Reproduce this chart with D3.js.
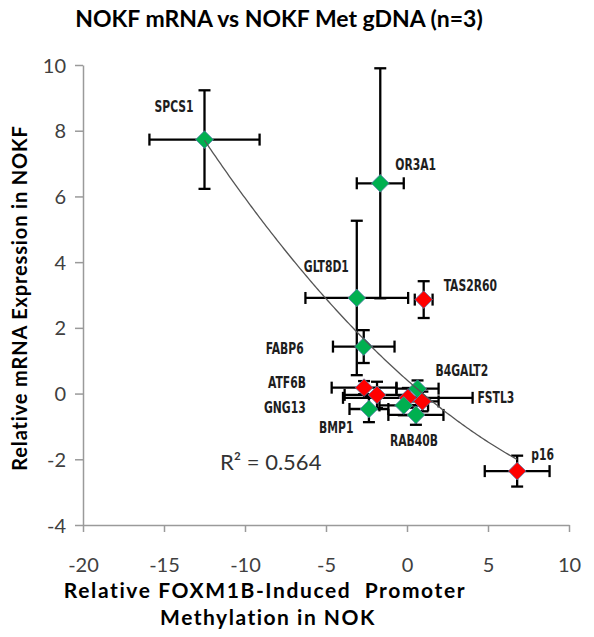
<!DOCTYPE html>
<html>
<head>
<meta charset="utf-8">
<script src="https://cdn.jsdelivr.net/npm/d3@7"></script>
<style>
  html, body { margin: 0; padding: 0; background: #fff; }
  svg { display: block; }
</style>
</head>
<body>
<svg id="chart" width="594" height="637"></svg>
<script>
// ---------------- data ----------------
const genes  = ["SPCS1", "OR3A1", "GLT8D1", "TAS2R60", "FABP6", "ATF6B", "BMP1", "GNG13", "", "", "B4GALT2", "FSTL3", "RAB40B", "p16"];
const methX  = [-12.5, -1.65, -3.1, 1.03, -2.67, -2.65, -1.85, -2.35, 0.05, -0.2, 0.65, 0.95, 0.55, 6.8];
const mrnaY  = [7.73, 6.4, 2.91, 2.86, 1.43, 0.18, -0.04, -0.47, -0.13, -0.36, 0.15, -0.24, -0.65, -2.36];
const xErr   = [3.4, 1.45, 3.17, 0.55, 1.9, 2.0, 2.0, 1.2, 4.0, 1.5, 1.3, 1.0, 1.7, 2.0];
const yErr   = [1.5, 3.5, 2.35, 0.56, 0.5, 0.2, 0.4, 0.4, 0.3, 0.3, 0.25, 0.3, 0.3, 0.47];
const group  = ["g", "g", "g", "r", "g", "r", "r", "g", "r", "g", "g", "r", "g", "r"];

const xTicks = [-20, -15, -10, -5, 0, 5, 10];
const yTicks = [-4, -2, 0, 2, 4, 6, 8, 10];

// polynomial (order 2) trendline coefficients: y = c0 + c1*x + c2*x^2
const trendCoef = [0.413, -0.436, 0.0118];
const trendRange = [-12.5, 6.8];
const r2Text = "R² = 0.564";

const titleText = "NOKF mRNA vs NOKF Met gDNA (n=3)";
const yTitle = "Relative mRNA Expression in NOKF";
const xTitle1 = "Relative FOXM1B-Induced  Promoter";
const xTitle2 = "Methylation in NOK";

// ---------------- layout / style ----------------
const colors = { g: "#00b050", r: "#ff0000" };
const labelOffsets = {
  "SPCS1": [-50, -28], "OR3A1": [15, -13], "GLT8D1": [-53, -26], "TAS2R60": [20, -9],
  "FABP6": [-98, 7], "ATF6B": [-96, 0], "BMP1": [-58, 38], "GNG13": [-105, 4],
  "B4GALT2": [18, -13], "FSTL3": [55, 2], "RAB40B": [-26, 31], "p16": [14, -11]
};

const svg = d3.select("#chart");
const x = d3.scaleLinear().domain([-20, 10]).range([83, 569]);
const y = d3.scaleLinear().domain([-4, 10]).range([525, 65]);

const numFont = "Lato, 'Open Sans', sans-serif";

// title
svg.append("text")
  .attr("x", 279).attr("y", 27)
  .attr("text-anchor", "middle")
  .attr("font-family", numFont).attr("font-weight", "bold")
  .attr("font-size", 23).attr("fill", "#000")
  .text(titleText);

// axes
const fmt = d => String(d);
const yAxis = svg.append("g").attr("transform", `translate(${x(-20)},0)`)
  .call(d3.axisLeft(y).tickValues(yTicks).tickSize(8).tickSizeOuter(0).tickPadding(9).tickFormat(fmt));
const xAxis = svg.append("g").attr("transform", `translate(0,${y(-4)})`)
  .call(d3.axisBottom(x).tickValues(xTicks).tickSize(7).tickSizeOuter(0).tickPadding(36).tickFormat(fmt));

[yAxis, xAxis].forEach(a => {
  a.select(".domain").attr("stroke", "#9a9a9a").attr("stroke-width", 1.5);
  a.selectAll(".tick line").attr("stroke", "#9a9a9a").attr("stroke-width", 1.5);
  a.selectAll(".tick text").attr("font-family", numFont).attr("font-size", 20).attr("fill", "#404040");
});
yAxis.selectAll(".tick text").attr("dy", "0.35em");
xAxis.selectAll(".tick text").attr("dy", "0.2em");

// axis titles
svg.append("text")
  .attr("transform", `translate(27,298) rotate(-90)`)
  .attr("text-anchor", "middle")
  .attr("font-family", numFont).attr("font-weight", "bold")
  .attr("font-size", 20).attr("letter-spacing", 0.85).attr("fill", "#000")
  .text(yTitle);
svg.append("text")
  .attr("x", 265).attr("y", 598)
  .attr("text-anchor", "middle").attr("xml:space", "preserve")
  .style("white-space", "pre")
  .attr("font-family", numFont).attr("font-weight", "bold")
  .attr("font-size", 21).attr("letter-spacing", 1.6).attr("fill", "#000")
  .text(xTitle1);
svg.append("text")
  .attr("x", 268).attr("y", 625)
  .attr("text-anchor", "middle")
  .attr("font-family", numFont).attr("font-weight", "bold")
  .attr("font-size", 21).attr("letter-spacing", 1.5).attr("fill", "#000")
  .text(xTitle2);

// data rows
const rows = genes.map((g, i) => ({ name: g, x: methX[i], y: mrnaY[i], ex: xErr[i], ey: yErr[i], grp: group[i] }));

// error bars
const cap = 6;
const eb = svg.append("g").attr("stroke", "#000").attr("stroke-width", 2.3).attr("fill", "none");
rows.forEach(d => {
  const cx = x(d.x), cy = y(d.y);
  const x0 = x(d.x - d.ex), x1 = x(d.x + d.ex);
  const y0 = y(d.y + d.ey), y1 = y(d.y - d.ey);
  eb.append("line").attr("x1", x0).attr("x2", x1).attr("y1", cy).attr("y2", cy);
  eb.append("line").attr("x1", x0).attr("x2", x0).attr("y1", cy - cap).attr("y2", cy + cap);
  eb.append("line").attr("x1", x1).attr("x2", x1).attr("y1", cy - cap).attr("y2", cy + cap);
  eb.append("line").attr("x1", cx).attr("x2", cx).attr("y1", y0).attr("y2", y1);
  eb.append("line").attr("x1", cx - cap).attr("x2", cx + cap).attr("y1", y0).attr("y2", y0);
  eb.append("line").attr("x1", cx - cap).attr("x2", cx + cap).attr("y1", y1).attr("y2", y1);
});

// markers (diamonds)
const sym = d3.symbol().type(d3.symbolDiamond2).size(200);
svg.append("g").selectAll("path").data(rows).join("path")
  .attr("transform", d => `translate(${x(d.x)},${y(d.y)})`)
  .attr("d", sym)
  .attr("fill", d => colors[d.grp])
  .attr("stroke", "#5a7fae").attr("stroke-width", 0.8);

// trendline
const tx = d3.range(trendRange[0], trendRange[1] + 0.001, 0.1);
const line = d3.line().x(v => x(v)).y(v => y(trendCoef[0] + trendCoef[1] * v + trendCoef[2] * v * v));
svg.append("path").attr("d", line(tx)).attr("fill", "none").attr("stroke", "#555").attr("stroke-width", 1.3);

// R² text
svg.append("text").attr("x", 220).attr("y", 470)
  .attr("font-family", numFont).attr("font-size", 22).attr("fill", "#333")
  .text(r2Text);

// point labels (condensed)
svg.append("g").selectAll("text").data(rows.filter(d => d.name)).join("text")
  .attr("transform", d => `translate(${x(d.x) + labelOffsets[d.name][0]},${y(d.y) + labelOffsets[d.name][1]}) scale(0.8,1)`)
  .attr("font-family", "'Liberation Sans Narrow','DejaVu Sans Condensed','DejaVu Sans',sans-serif")
  .attr("font-weight", "bold").attr("font-size", 15).attr("fill", "#1e1e1e")
  .text(d => d.name);
</script>
</body>
</html>
